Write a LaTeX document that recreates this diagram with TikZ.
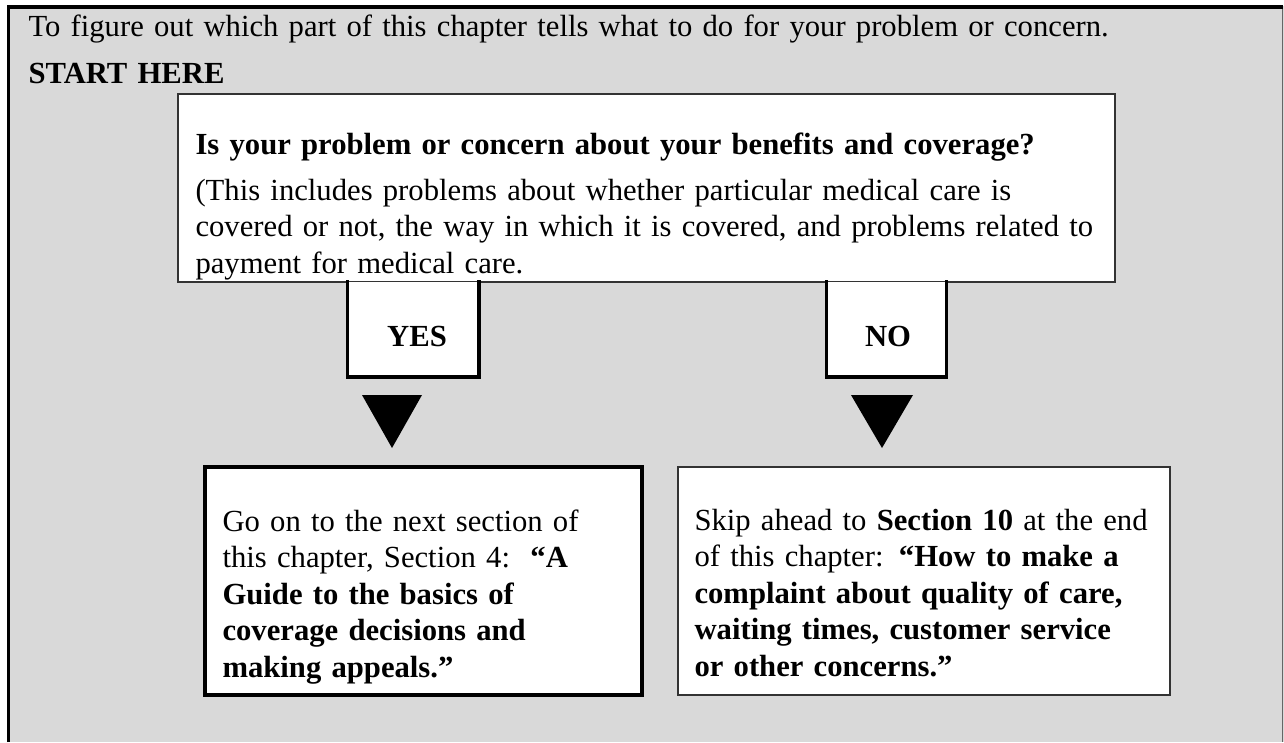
\documentclass[tikz,border=0pt]{standalone}
\usepackage{fontspec}
\setmainfont{Liberation Serif}
\usepackage{xcolor}
\usetikzlibrary{positioning}
\definecolor{panelgray}{HTML}{D9D9D9}
\tikzset{
  txt/.style={anchor=base west, inner sep=0pt, align=left, text width=430pt,
    font=\fontsize{11.5}{13.7}\selectfont},
  tabtxt/.style={anchor=base, inner sep=0pt, font=\fontsize{11.5}{13.7}\selectfont\bfseries},
  thinbox/.style={draw=black!80, line width=0.55pt, fill=white},
  thickbox/.style={draw=black, line width=1.5pt, fill=white},
  tab/.style={draw=black, line width=1.4pt},
}

\begin{document}
\begin{tikzpicture}[x=0.375pt,y=-0.375pt]
\useasboundingbox (0,0) rectangle (1284,742);
% panel
\fill[panelgray] (8,6) rectangle (1284,742);
\draw[black!60,line width=0.6pt] (1282.5,7) -- (1282.5,742);
\draw[line width=1.2pt] (8.5,742) -- (8.5,7) -- (1283,7);
\node[txt] (intro) at (28,37) {To figure out which part of this chapter tells what to do for your problem or concern.};
\node[txt] (start) at (28,83) {\textbf{START HERE}};

% question
\draw[thinbox] (178,94) rectangle (1115,282);
\node[txt] (question) at (195,154) {\textbf{Is your problem or concern about your benefits and coverage?}};
\node[txt] (details) at (195,200) {(This includes problems about whether particular medical care is\\
  covered or not, the way in which it is covered, and problems related to\\
  payment for medical care.};

% yes / no tabs
\fill[white] (347.5,282) rectangle (479,377);
\draw[tab] (347.5,280) -- (347.5,377) -- (479,377) -- (479,280);
\node[tabtxt] (yes) at (417,346) {YES};
\fill[white] (826.5,282) rectangle (946.5,377);
\draw[tab] (826.5,280) -- (826.5,377) -- (946.5,377) -- (946.5,280);
\node[tabtxt] (no) at (888,346) {NO};

% pointers
\fill (362,395) -- (422,395) -- (392,448) -- cycle;
\fill (851,395) -- (913,395) -- (882,448) -- cycle;

% outcomes
\draw[thickbox] (205,467) rectangle (642,695);
\node[txt] (yesgo) at (222,531) {Go on to the next section of\\
  this chapter, Section 4:\ \ \textbf{“A}\\
  \textbf{Guide to the basics of}\\
  \textbf{coverage decisions and}\\
  \textbf{making appeals.”}};
\draw[thinbox] (678,467) rectangle (1170,695);
\node[txt] (nogo) at (694,530) {Skip ahead to \textbf{Section 10} at the end\\
  of this chapter: \textbf{“How to make a}\\
  \textbf{complaint about quality of care,}\\
  \textbf{waiting times, customer service}\\
  \textbf{or other concerns.”}};
\end{tikzpicture}
\end{document}
